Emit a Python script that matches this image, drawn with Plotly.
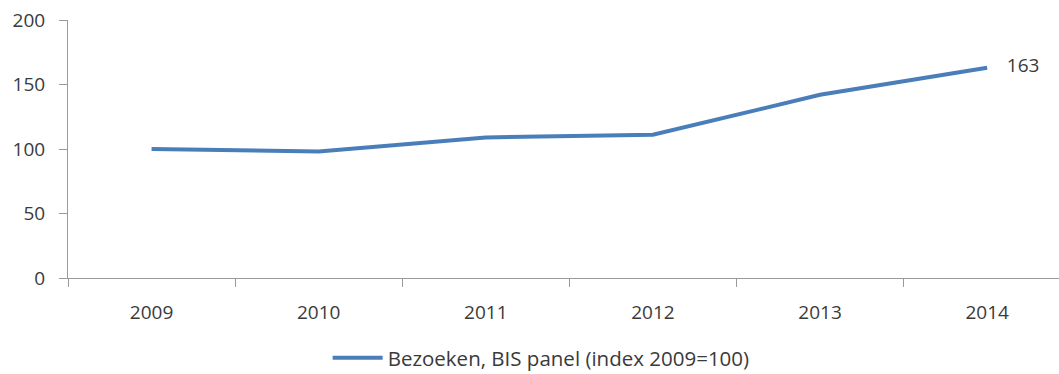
import plotly.graph_objects as go

years = ["2009", "2010", "2011", "2012", "2013", "2014"]
visits_index = [100, 98, 109, 111, 142, 163]
series_name = "Bezoeken, BIS panel (index 2009=100)"
y_ticks = [0, 50, 100, 150, 200]

# Only the final point carries a value label
point_labels = [""] * (len(years) - 1) + ["    " + str(visits_index[-1])]

line_color = "#4A7EBB"
axis_color = "#9A9A9A"
text_color = "#3A3A3A"
font_family = "'Open Sans', sans-serif"

fig = go.Figure()
fig.add_trace(go.Scatter(
    x=years, y=visits_index, mode="lines+text", name=series_name,
    line=dict(color=line_color, width=4),
    text=point_labels, textposition="middle right", cliponaxis=False,
    textfont=dict(size=19, color=text_color, family=font_family),
))

fig.update_layout(
    width=1059, height=374,
    margin=dict(l=68, r=0, t=20, b=96, autoexpand=False),
    plot_bgcolor="white", paper_bgcolor="white",
    font=dict(family=font_family, size=19, color=text_color),
    showlegend=True,
    legend=dict(orientation="h", x=0.262, xanchor="left", y=-0.31, yanchor="middle",
                font=dict(size=20.5, color=text_color), itemwidth=50),
    xaxis=dict(
        type="category", range=[-0.5, 5.43],
        showline=True, linecolor=axis_color, linewidth=1,
        ticks="outside", tickson="boundaries", ticklen=8, tickcolor=axis_color,
        showgrid=False, zeroline=False, ticklabelstandoff=17,
    ),
    yaxis=dict(
        range=[0, 200], tickvals=y_ticks,
        showline=True, linecolor=axis_color, linewidth=1,
        ticks="outside", ticklen=8, tickcolor=axis_color,
        showgrid=False, zeroline=False, ticklabelstandoff=10,
    ),
)

fig.write_html("out.html")
